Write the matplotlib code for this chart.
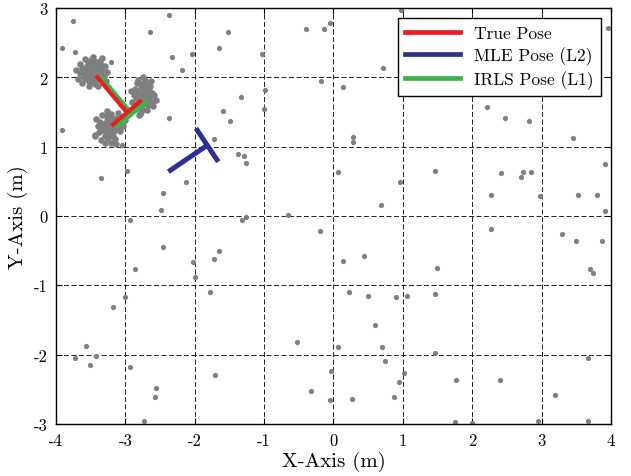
import matplotlib
matplotlib.use("Agg")
import matplotlib.pyplot as plt
from matplotlib.lines import Line2D

plt.rcParams['font.family'] = 'serif'
plt.rcParams['font.serif'] = ['cmr10']
plt.rcParams['mathtext.fontset'] = 'cm'
plt.rcParams['axes.unicode_minus'] = False

# scattered range points (m)
scatter_x = [-3.751, -3.918, -3.730, -2.367, -2.645, -2.332, -2.035, -2.184, -1.521, -1.650,
             -1.026, -0.992, -1.006, -1.338, -1.597, -1.488, -1.727, -1.372, -1.286, -1.261,
             -2.367, -3.918, -3.053, -2.977, -3.347, -2.130, -2.462, -2.482, -0.401, -0.141,
             -0.051, -0.180, 0.060, -0.656, -1.266, -3.212, 0.977, 1.035, 0.718, 1.016,
             1.035, 0.133, 0.277, 0.277, 1.459, 0.958, 0.685, 3.952, 2.208, 2.472,
             2.818, 3.448, 3.918, 2.414, 2.727, 2.707, 2.851, 2.270, 2.981, 3.520,
             3.794, 3.918, -2.938, -1.323, -0.199, -2.458, -2.866, -2.021, -2.001, -1.727,
             -1.650, -3.010, -3.178, -1.780, -3.568, -3.730, -3.419, -3.510, -2.938, -2.554,
             -2.573, -2.736, -1.708, -0.531, 0.060, -0.032, -0.324, -0.051, 2.270, 3.298,
             3.500, 3.870, 3.702, 3.741, 0.133, 0.444, 1.492, 0.228, 0.502, 0.905,
             1.055, 1.459, 0.594, 0.703, 1.459, 0.742, 3.664, 1.016, 0.940, 1.770,
             2.400, 0.262, 0.868, 3.188, 1.756, 1.996, 2.948, 3.664]
scatter_y = [2.808, 2.419, 2.370, 2.899, 2.658, 2.293, 2.332, 2.110, 2.658, 2.423,
             2.332, 1.817, 1.543, 1.721, 1.519, 1.370, 1.115, 0.894, 0.861, 0.764,
             1.409, 1.245, 1.024, 0.649, 0.544, 0.490, 0.327, 0.082, 2.697, 2.697,
             2.784, 1.947, 0.639, 0.014, -0.019, 2.221, 2.975, 2.202, 2.130, 1.990,
             1.961, 1.856, 1.135, 1.072, 0.653, 0.490, 0.159, 2.707, 1.576, 1.413,
             1.370, 1.121, 0.750, 0.620, 0.639, 0.567, 0.639, 0.307, 0.288, 0.307,
             0.307, 0.072, -0.062, -0.062, -0.212, -0.452, -0.765, -0.668, -0.876, -0.616,
             -0.505, -1.169, -1.317, -1.096, -1.871, -2.048, -2.015, -2.145, -2.183, -2.477,
             -2.607, -2.957, -2.289, -1.813, -1.885, -2.240, -2.529, -2.659, -0.192, -0.264,
             -0.356, -0.356, -0.765, -0.818, -0.654, -0.577, -0.746, -1.092, -1.150, -1.169,
             -1.150, -1.130, -1.572, -1.885, -1.976, -2.092, -2.053, -2.269, -2.399, -2.366,
             -2.366, -2.644, -2.607, -2.582, -2.967, -2.990, -2.957, -2.953]

# dense returns around the three landmark ends
cluster_a = [(-3.48, 2.09), (-3.44, 2.12), (-3.52, 2.06), (-3.46, 2.03), (-3.50, 2.14), (-3.40, 2.07),
             (-3.56, 2.10), (-3.43, 2.17), (-3.53, 2.01), (-3.47, 1.98), (-3.38, 2.13), (-3.58, 2.04),
             (-3.41, 2.01), (-3.55, 2.16), (-3.49, 2.20), (-3.36, 2.05), (-3.61, 2.09), (-3.45, 2.24),
             (-3.52, 1.95), (-3.39, 1.97), (-3.62, 2.14), (-3.33, 2.10), (-3.57, 1.97), (-3.42, 2.22),
             (-3.46, 1.93), (-3.35, 2.18), (-3.60, 2.00), (-3.50, 2.25), (-3.65, 2.06), (-3.31, 2.02),
             (-3.44, 1.90), (-3.54, 2.22), (-3.37, 2.24), (-3.68, 1.98), (-3.29, 2.16), (-3.58, 2.27),
             (-3.40, 1.88), (-3.66, 2.19), (-3.28, 1.95), (-3.47, 2.30), (-3.63, 1.92), (-3.34, 2.28),
             (-3.71, 2.10), (-3.26, 2.08), (-3.53, 1.87)]
cluster_b = [(-2.75, 1.76), (-2.71, 1.80), (-2.79, 1.72), (-2.73, 1.69), (-2.77, 1.84), (-2.68, 1.74),
             (-2.82, 1.78), (-2.70, 1.88), (-2.80, 1.66), (-2.74, 1.62), (-2.66, 1.82), (-2.84, 1.70),
             (-2.69, 1.66), (-2.78, 1.90), (-2.72, 1.93), (-2.64, 1.70), (-2.86, 1.83), (-2.67, 1.60),
             (-2.81, 1.59), (-2.62, 1.77), (-2.76, 1.55), (-2.65, 1.88), (-2.88, 1.74), (-2.72, 1.96),
             (-2.60, 1.65), (-2.83, 1.92), (-2.69, 1.53), (-2.58, 1.74), (-2.90, 1.64), (-2.63, 1.95),
             (-2.77, 1.50), (-2.60, 1.58), (-2.86, 1.55), (-2.74, 2.00), (-2.56, 1.68), (-2.92, 1.80),
             (-2.79, 1.47), (-2.82, 1.96), (-2.81, 1.46)]
cluster_c = [(-3.24, 1.31), (-3.20, 1.35), (-3.28, 1.28), (-3.22, 1.25), (-3.26, 1.38), (-3.17, 1.30),
             (-3.31, 1.33), (-3.19, 1.41), (-3.29, 1.22), (-3.23, 1.19), (-3.14, 1.36), (-3.34, 1.26),
             (-3.16, 1.23), (-3.27, 1.44), (-3.21, 1.47), (-3.11, 1.28), (-3.36, 1.36), (-3.18, 1.16),
             (-3.30, 1.15), (-3.12, 1.42), (-3.38, 1.21), (-3.25, 1.12), (-3.08, 1.34), (-3.33, 1.45),
             (-3.15, 1.11), (-3.40, 1.30), (-3.07, 1.22), (-3.26, 1.52), (-3.35, 1.10), (-3.10, 1.48),
             (-3.20, 1.06), (-3.42, 1.40), (-3.04, 1.30), (-3.30, 1.05), (-3.13, 1.04), (-3.44, 1.17),
             (-3.01, 1.38), (-3.44, 1.16)]

# pose "T" markers: stem (x0, y0, x1, y1) and cross bar (x0, y0, x1, y1)
true_stem = [-3.423, 2.024, -2.958, 1.471]
true_bar = [-3.197, 1.302, -2.765, 1.673]
mle_stem = [-2.381, 0.639, -1.828, 1.014]
mle_bar = [-1.982, 1.265, -1.661, 0.783]
irls_stem = [-3.366, 2.015, -2.933, 1.496]
irls_bar = [-3.150, 1.279, -2.684, 1.663]

ticks_x = [-4, -3, -2, -1, 0, 1, 2, 3, 4]
ticks_y = [-3, -2, -1, 0, 1, 2, 3]

red = '#ed1c24'
blue = '#2e3192'
green = '#39b54a'
gray = '#7f7f7f'

fig = plt.figure(figsize=(6.31, 4.77), dpi=100)
ax = fig.add_axes([0.0887, 0.109, 0.8796, 0.8721])

ax.scatter(scatter_x, scatter_y, s=14, color=gray, linewidths=0, zorder=2)
for cl in (cluster_a, cluster_b, cluster_c):
    ax.scatter([p[0] for p in cl], [p[1] for p in cl], s=22, color=gray, linewidths=0, zorder=2)


def draw_pose(stem, bar, color, lw):
    ax.plot([stem[0], stem[2]], [stem[1], stem[3]], color=color, lw=lw, solid_capstyle='butt', zorder=3)
    ax.plot([bar[0], bar[2]], [bar[1], bar[3]], color=color, lw=lw, solid_capstyle='butt', zorder=3)


draw_pose(mle_stem, mle_bar, blue, 3.6)
draw_pose(irls_stem, irls_bar, green, 3.6)
draw_pose(true_stem, true_bar, red, 3.0)

ax.set_xlim(-4, 4)
ax.set_ylim(-3, 3)
ax.set_xticks(ticks_x)
ax.set_xticklabels([str(t) for t in ticks_x], fontsize=12)
ax.set_yticks(ticks_y)
ax.set_yticklabels([str(t) for t in ticks_y], fontsize=12)
ax.tick_params(direction='in', top=True, right=True, length=4, width=0.8, pad=6)
ax.grid(True, color='black', linestyle=(0, (6, 3)), linewidth=0.6)
for sp in ax.spines.values():
    sp.set_linewidth(1.0)

ax.set_xlabel('X-Axis (m)', fontsize=15, labelpad=2)
ax.set_ylabel('Y-Axis (m)', fontsize=15, labelpad=4)

handles = [Line2D([], [], color=red, lw=3.4),
           Line2D([], [], color=blue, lw=3.4),
           Line2D([], [], color=green, lw=3.4)]
leg = ax.legend(handles, ['True Pose', 'MLE Pose (L2)', 'IRLS Pose (L1)'], loc='upper right',
                fontsize=12.5, fancybox=False, framealpha=1, edgecolor='black',
                handlelength=3.2, labelspacing=0.3, borderaxespad=0.6)
leg.get_frame().set_linewidth(1.0)

fig.savefig('out.png', dpi=100)
